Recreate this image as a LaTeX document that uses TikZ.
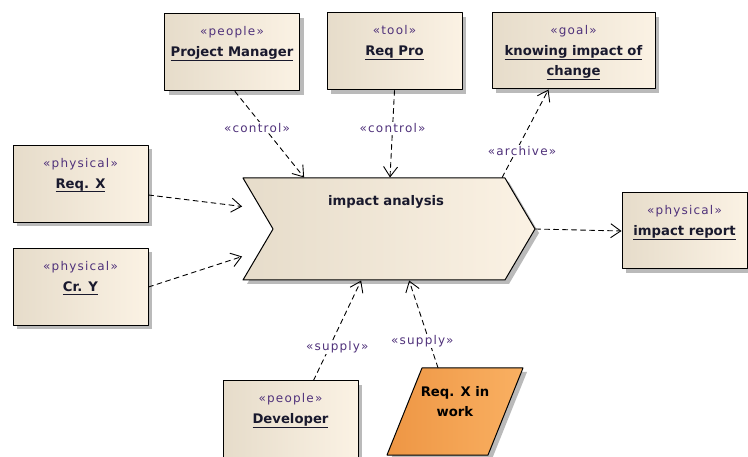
\documentclass[tikz,border=0pt]{standalone}
\usepackage{fontspec}
\setmainfont{DejaVu Sans}
\newfontfamily\stfont[LetterSpace=10]{DejaVu Sans}
\usetikzlibrary{arrows.meta,positioning,shapes.symbols,shadows}
\definecolor{e8ddcb}{RGB}{230,220,202}
\definecolor{fbf2e4}{RGB}{251,242,228}
\definecolor{ee9644}{RGB}{238,150,68}
\definecolor{f9b062}{RGB}{249,176,98}
\definecolor{50327b}{RGB}{80,50,123}
\definecolor{19192d}{RGB}{25,25,45}
\newcommand{\nm}[1]{\setbox0\hbox{#1}\rlap{\rule[-4pt]{\wd0}{1.1pt}}\box0}
\newcommand{\st}[1]{{\stfont\mdseries\fontsize{12}{14}\selectfont\color{50327b}«#1»}}

\begin{document}
\begin{tikzpicture}[x=1pt,y=-1pt,line cap=round,line join=round,>={Straight Barb[length=10pt,width=14pt]},
  shd/.style={drop shadow={shadow xshift=4pt,shadow yshift=-4pt,fill=black!45,opacity=.6}},
  obj/.style={shd,draw=black,line width=1pt,left color=e8ddcb,right color=fbf2e4,minimum width=135pt,minimum height=77pt,inner sep=0pt},
  chev/.style={obj,signal,signal to=east,signal from=west,signal pointer angle=119,minimum width=292pt,minimum height=102pt},
  para/.style={shd,draw=black,line width=1pt,left color=ee9644,right color=f9b062},
  objtxt/.style={inner sep=0pt,align=center,text=19192d,font=\fontsize{13.2}{20}\selectfont\bfseries},
  dep/.style={->,dash pattern=on 5pt off 4pt,line width=.9pt},
  lbl/.style={fill=white,inner sep=1pt,text=50327b,font=\stfont\fontsize{12}{14}\selectfont}]
\useasboundingbox (0,0) rectangle (748,457);
\clip (0,0) rectangle (748,457);
\node[obj] (pm) at (232,52.5) {};
\node[objtxt,below=13pt of pm.north] (pmt) {\st{people}\\[1pt]\nm{Project Manager}};
\node[obj] (rp) at (394.5,51.5) {};
\node[objtxt,below=13pt of rp.north] (rpt) {\st{tool}\\[1pt]\nm{Req Pro}};
\node[obj,minimum width=163pt,minimum height=76pt] (goal) at (573.5,51) {};
\node[objtxt,below=13pt of goal.north] (goalt) {\st{goal}\\[1pt]\nm{knowing impact of}\\\nm{change}};
\node[obj] (rx) at (80.5,184) {};
\node[objtxt,below=13pt of rx.north] (rxt) {\st{physical}\\[1pt]\nm{Req. X}};
\node[obj] (cy) at (80.5,287) {};
\node[objtxt,below=13pt of cy.north] (cyt) {\st{physical}\\[1pt]\nm{Cr. Y}};
\node[obj,minimum width=125pt,minimum height=76pt] (ir) at (684.5,231) {};
\node[objtxt,below=13pt of ir.north] (irt) {\st{physical}\\[1pt]\nm{impact report}};
\node[obj] (dev) at (290.5,419.5) {};
\node[objtxt,below=13pt of dev.north] (devt) {\st{people}\\[1pt]\nm{Developer}};
\node[chev] (ia) at (389,229) {};
\node[objtxt,below=18pt of ia.north,xshift=-3pt] (iat) {impact analysis};
\path[para] (422,368) -- (523,368) -- (488,455) -- (387,455) -- cycle;
\node[minimum width=136pt,minimum height=87pt,inner sep=0pt] (rxw) at (455,411.5) {};
\node[objtxt,below=18pt of rxw.north,text=black] (rxwt) {Req. X in\\work};

\draw[dep] ([xshift=3pt]pm.south) -- ([xshift=62pt]ia.north west) node[lbl,pos=.42,xshift=-7pt] (lc1) {«control»};
\draw[dep] (rp.south) -- ([xshift=1pt]ia.north) node[lbl,pos=.43] (lc2) {«control»};
\draw[dep] ([xshift=260pt]ia.north west) -- ([xshift=-25pt]goal.south) node[lbl,pos=.3,xshift=6pt] (la) {«archive»};
\draw[dep] ([yshift=-11pt]rx.east) -- ([yshift=-29pt]ia.north west);
\draw[dep] (cy.east) -- ([yshift=24pt]ia.south west);
\draw[dep] (ia.east) -- (ir.west);
\draw[dep] ([xshift=23pt]dev.north) -- ([xshift=119pt]ia.south west) node[lbl,pos=.33,xshift=8pt] (ls1) {«supply»};
\draw[dep] ([xshift=-17pt]rxw.north) -- ([xshift=167pt]ia.south west) node[lbl,pos=.3,xshift=-7pt] (ls2) {«supply»};
\end{tikzpicture}
\end{document}
